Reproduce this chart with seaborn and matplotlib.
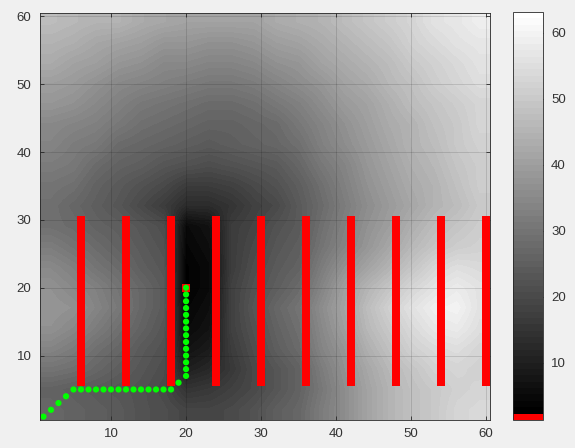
import numpy as np
import matplotlib
matplotlib.use("Agg")
import matplotlib.pyplot as plt
from matplotlib.colors import ListedColormap
import seaborn as sns

# cost field, one value per 3x3 block of cells
# block centres (x and y): 2, 5, 8, ..., 59 ; rows listed from top (y=59) to bottom (y=2)
block_centres = [2, 5, 8, 11, 14, 17, 20, 23, 26, 29, 32, 35, 38, 41, 44, 47, 50, 53, 56, 59]
field = [
    [47, 46, 45, 45, 43, 42, 41, 41, 41, 41, 43, 44, 45, 47, 49, 51, 53, 56, 57, 59],  # y=59
    [45, 44, 42, 41, 40, 38, 38, 37, 37, 38, 40, 41, 43, 45, 47, 49, 52, 54, 56, 57],  # y=56
    [43, 41, 40, 38, 37, 35, 35, 34, 34, 35, 37, 38, 41, 43, 45, 47, 50, 52, 54, 56],  # y=53
    [40, 39, 37, 35, 34, 33, 32, 31, 31, 32, 34, 36, 38, 41, 43, 46, 48, 51, 53, 55],  # y=50
    [38, 37, 35, 33, 31, 30, 29, 28, 28, 29, 31, 33, 36, 39, 41, 44, 47, 49, 51, 53],  # y=47
    [35, 34, 33, 31, 29, 28, 27, 26, 26, 27, 28, 31, 34, 37, 40, 43, 45, 48, 50, 53],  # y=44
    [34, 32, 31, 28, 27, 26, 25, 24, 25, 26, 27, 29, 33, 36, 39, 42, 45, 47, 50, 52],  # y=41
    [32, 31, 28, 26, 25, 23, 22, 21, 22, 23, 24, 27, 31, 34, 38, 41, 44, 46, 49, 51],  # y=38
    [30, 29, 26, 24, 22, 20, 17, 17, 18, 20, 22, 25, 29, 33, 37, 40, 43, 45, 48, 51],  # y=35
    [29, 27, 25, 23, 20, 17, 13, 13, 15, 18, 20, 24, 28, 32, 36, 39, 42, 45, 47, 50],  # y=32
    [29, 28, 26, 25, 23, 21, 5, 7, 17, 19, 22, 24, 29, 33, 37, 40, 44, 47, 49, 51],    # y=29
    [32, 30, 28, 26, 24, 22, 4, 6, 17, 20, 23, 25, 30, 34, 38, 42, 46, 49, 51, 52],    # y=26
    [35, 33, 30, 28, 25, 23, 3, 5, 17, 21, 24, 26, 32, 37, 41, 45, 49, 53, 55, 54],    # y=23
    [37, 35, 33, 30, 27, 24, 3, 5, 18, 22, 25, 28, 34, 40, 45, 49, 53, 56, 58, 56],    # y=20
    [38, 37, 34, 31, 27, 24, 4, 6, 18, 23, 27, 30, 36, 41, 47, 52, 56, 59, 60, 56],    # y=17
    [37, 35, 32, 29, 26, 23, 5, 7, 18, 22, 26, 29, 35, 40, 46, 50, 54, 57, 58, 55],    # y=14
    [34, 32, 29, 27, 24, 22, 7, 9, 17, 21, 25, 28, 34, 38, 44, 48, 52, 54, 55, 53],    # y=11
    [30, 29, 27, 25, 23, 21, 10, 12, 16, 20, 23, 26, 32, 37, 42, 46, 49, 52, 53, 52],  # y=8
    [26, 25, 24, 23, 22, 20, 15, 16, 18, 20, 23, 26, 31, 36, 41, 45, 48, 50, 52, 53],  # y=5
    [27, 26, 25, 24, 22, 21, 19, 19, 20, 22, 25, 27, 32, 36, 41, 45, 48, 50, 53, 54],  # y=2
]

# obstacle columns (red cells), each spanning rows 6..30
obstacle_cols = [6, 12, 18, 24, 30, 36, 42, 48, 54, 60]
obstacle_rows = (6, 30)

# path of the agent
path_x = [1, 2, 3, 4, 5, 6, 7, 8, 9, 10, 11, 12, 13, 14, 15, 16, 17, 18, 19,
          20, 20, 20, 20, 20, 20, 20, 20, 20, 20, 20, 20, 20, 20]
path_y = [1, 2, 3, 4, 5, 5, 5, 5, 5, 5, 5, 5, 5, 5, 5, 5, 5, 5, 6,
          7, 8, 9, 10, 11, 12, 13, 14, 15, 16, 17, 18, 19, 20]
goal_x = [20]
goal_y = [20]

ticks = [10, 20, 30, 40, 50, 60]

sns.set_style("ticks")
plt.rcParams["font.family"] = ["Liberation Sans", "DejaVu Sans"]

# MATLAB-like colormap: first entry red, then gray from black to white
cols = [(1, 0, 0)] + [(g, g, g) for g in np.linspace(0, 1, 63)]
cmap = ListedColormap(cols)

fig = plt.figure(figsize=(5.75, 4.48), dpi=100, facecolor="#f0f0f0")
ax = fig.add_axes([0.0691, 0.0625, 0.7829, 0.9085])
cax = fig.add_axes([0.8917, 0.0625, 0.0522, 0.911])

im = ax.imshow(np.array(field, dtype=float), cmap=cmap, vmin=1.3, vmax=63.2,
               extent=(0.5, 60.5, 0.5, 60.5), origin="upper",
               interpolation="bilinear", aspect="auto", zorder=0)

# obstacles as their own layer of cells
obs = np.ma.masked_all((60, 60))
for c in obstacle_cols:
    obs[obstacle_rows[0] - 1:obstacle_rows[1], c - 1] = 1
edges = np.arange(0.5, 61.5, 1.0)
ax.pcolormesh(edges, edges, obs, cmap=ListedColormap(["#ff0000"]),
              shading="flat", linewidth=0, antialiased=False, zorder=3)

ax.scatter(goal_x, goal_y, marker="s", s=34, color="#ff0000", linewidths=0, zorder=4)
sns.scatterplot(x=path_x, y=path_y, color="#00ff00", s=20, edgecolor="none",
                ax=ax, zorder=5, legend=False)

ax.set_xlim(0.5, 60.5)
ax.set_ylim(0.5, 60.5)
ax.set_xticks(ticks)
ax.set_yticks(ticks)
ax.grid(True, color="k", alpha=0.15, lw=0.6)
ax.set_axisbelow(False)
ax.tick_params(direction="in", length=3, width=0.6, colors="#262626",
               labelsize=9.5, top=True, right=True, labelcolor="#333333", pad=6)
for s in ax.spines.values():
    s.set_color("#262626")
    s.set_linewidth(0.6)
    s.set_zorder(6)

cb = fig.colorbar(im, cax=cax, ticks=ticks)
cb.outline.set_edgecolor("#262626")
cb.outline.set_linewidth(0.6)
cax.tick_params(direction="in", length=3, width=0.6, colors="#262626",
                labelsize=9.5, labelcolor="#333333", pad=6)

fig.savefig("out.png", dpi=100, facecolor="#f0f0f0")
